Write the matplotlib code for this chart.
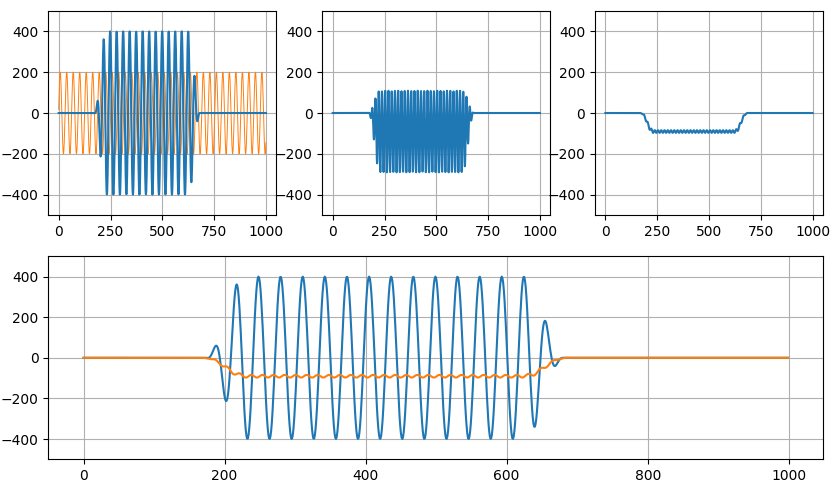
import numpy as np
import matplotlib
matplotlib.use("Agg")
import matplotlib.pyplot as plt

# ---- values ----
n_samples = 1000
signal_amp = 400          # peak of the blue burst
carrier_amp = 200         # peak of the orange reference
period = 31.36            # samples per cycle (both waves)
signal_phase_deg = 32     # blue phase at n = 0
carrier_phase_deg = -85   # orange phase at n = 0
burst_edges = [173, 681]  # burst start / end sample
taper_len = 55            # samples of cosine taper at each burst edge
product_scale = 200       # product divided by this value
smooth_len = 30           # length of the centred Hann low-pass
y_limits = [-500, 500]

# ---- build the signals ----
n = np.arange(n_samples)
w = np.zeros(n_samples)
a, b = burst_edges
inside = (n >= a) & (n <= b)
w[inside] = 1.0
rise = (n >= a) & (n < a + taper_len)
w[rise] = 0.5 * (1 - np.cos(np.pi * (n[rise] - a) / taper_len))
fall = (n > b - taper_len) & (n <= b)
w[fall] = 0.5 * (1 - np.cos(np.pi * (b - n[fall]) / taper_len))

signal = signal_amp * w * np.cos(2 * np.pi * n / period + np.deg2rad(signal_phase_deg))
carrier = carrier_amp * np.cos(2 * np.pi * n / period + np.deg2rad(carrier_phase_deg))
product = signal * carrier / product_scale
kernel = np.hanning(smooth_len)
kernel /= kernel.sum()
filtered = np.convolve(product, kernel, mode="same")

# ---- figure ----
W, H = 839, 494
fig = plt.figure(figsize=(W / 100, H / 100), dpi=100)

top_b = (H - 215) / H
top_h = 204 / H
aw = 228 / W
ax1 = fig.add_axes([48.3 / W, top_b, aw, top_h])
ax2 = fig.add_axes([322.3 / W, top_b, aw, top_h])
ax3 = fig.add_axes([595.0 / W, top_b, aw, top_h])
ax4 = fig.add_axes([48.3 / W, (H - 459.3) / H, (823.3 - 48.3) / W, 203 / H])

ax1.plot(n, carrier, color="C1", lw=0.7)
ax1.plot(n, signal, color="C0")
ax2.plot(n, product, color="C0")
ax3.plot(n, filtered, color="C0")
ax4.plot(n, signal, color="C0")
ax4.plot(n, filtered, color="C1")

for ax in (ax1, ax2, ax3, ax4):
    ax.set_ylim(*y_limits)
    ax.grid(True)

fig.savefig("out.png", dpi=100)
